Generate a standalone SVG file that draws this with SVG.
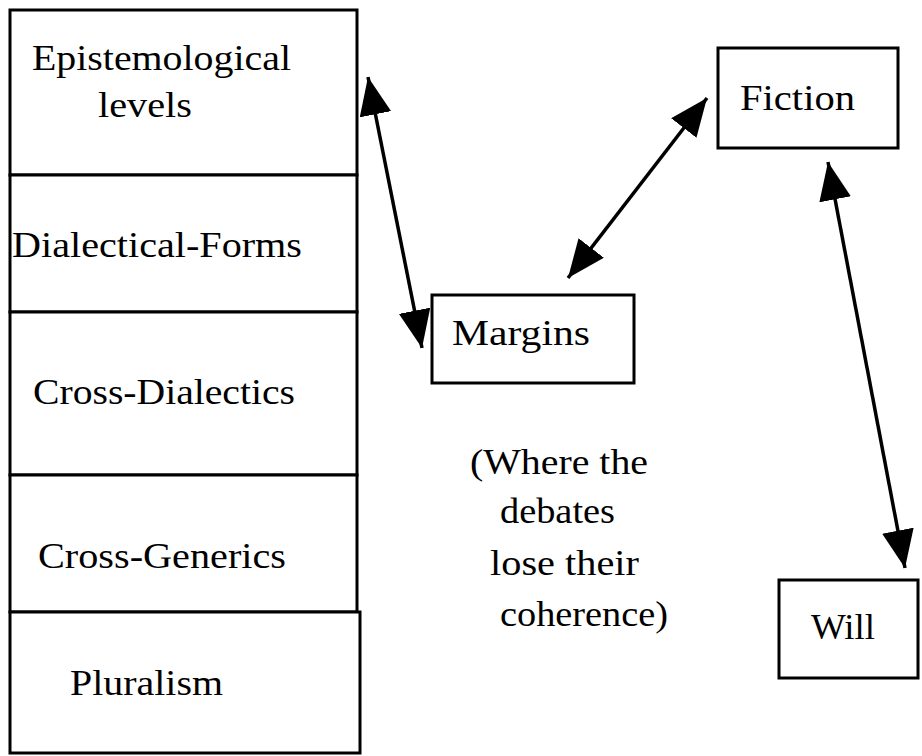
<svg xmlns="http://www.w3.org/2000/svg" width="922" height="756" viewBox="0 0 922 756">
  <style>
    .box { fill: #fff; stroke: #000; stroke-width: 3; }
    .lbl { font-family: "Liberation Serif", "Times New Roman", serif; font-size: 36px; fill: #000; }
    .conn { stroke: #000; stroke-width: 3.5; fill: none; marker-start: url(#head); marker-end: url(#head); }
  </style>
  <defs>
    <marker id="head" viewBox="0 0 38 32" refX="38" refY="16" markerWidth="38" markerHeight="32" markerUnits="userSpaceOnUse" orient="auto-start-reverse">
      <path d="M0,0 L38,16 L0,32 z" fill="#000"/>
    </marker>
  </defs>

  <rect width="922" height="756" fill="#fff"/>

  <!-- stacked column of levels -->
  <g id="epistemological">
    <rect class="box" x="10" y="10" width="347" height="165"/>
    <text class="lbl" x="32" y="70" textLength="259" lengthAdjust="spacingAndGlyphs">Epistemological</text>
    <text class="lbl" x="98" y="117" textLength="94" lengthAdjust="spacingAndGlyphs">levels</text>
  </g>
  <g id="dialectical-forms">
    <rect class="box" x="10" y="175" width="347" height="137"/>
    <text class="lbl" x="12" y="257" textLength="290" lengthAdjust="spacingAndGlyphs">Dialectical-Forms</text>
  </g>
  <g id="cross-dialectics">
    <rect class="box" x="10" y="312" width="347" height="163"/>
    <text class="lbl" x="33" y="404" textLength="262" lengthAdjust="spacingAndGlyphs">Cross-Dialectics</text>
  </g>
  <g id="cross-generics">
    <rect class="box" x="10" y="475" width="347" height="137"/>
    <text class="lbl" x="38" y="568" textLength="248" lengthAdjust="spacingAndGlyphs">Cross-Generics</text>
  </g>
  <g id="pluralism">
    <rect class="box" x="10" y="612" width="350" height="141"/>
    <text class="lbl" x="70" y="695" textLength="153" lengthAdjust="spacingAndGlyphs">Pluralism</text>
  </g>

  <g id="margins">
    <rect class="box" x="432" y="295" width="202" height="88"/>
    <text class="lbl" x="452" y="345" textLength="138" lengthAdjust="spacingAndGlyphs">Margins</text>
  </g>

  <g id="margins-note">
    <text class="lbl" x="470" y="474" textLength="178" lengthAdjust="spacingAndGlyphs">(Where the</text>
    <text class="lbl" x="500" y="523" textLength="115" lengthAdjust="spacingAndGlyphs">debates</text>
    <text class="lbl" x="490" y="575" textLength="149" lengthAdjust="spacingAndGlyphs">lose their</text>
    <text class="lbl" x="500" y="626" textLength="168" lengthAdjust="spacingAndGlyphs">coherence)</text>
  </g>

  <g id="fiction">
    <rect class="box" x="718" y="48" width="180" height="100"/>
    <text class="lbl" x="740" y="110" textLength="115" lengthAdjust="spacingAndGlyphs">Fiction</text>
  </g>

  <g id="will">
    <rect class="box" x="779" y="580" width="139" height="98"/>
    <text class="lbl" x="811" y="639" textLength="64" lengthAdjust="spacingAndGlyphs">Will</text>
  </g>

  <!-- two-headed connectors -->
  <g id="connectors">
    <line class="conn" x1="368" y1="77" x2="422" y2="348"/>
    <line class="conn" x1="707" y1="98" x2="568" y2="278"/>
    <line class="conn" x1="828" y1="162" x2="905" y2="568"/>
  </g>
</svg>
